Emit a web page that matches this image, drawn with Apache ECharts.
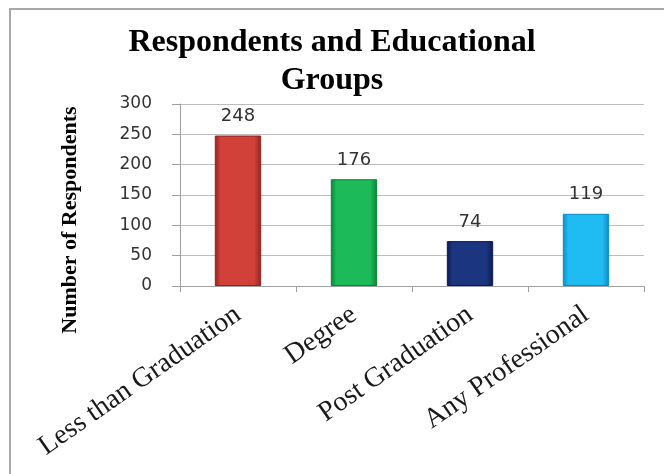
<!DOCTYPE html>
<html>
<head>
<meta charset="utf-8">
<script src="https://cdn.jsdelivr.net/npm/echarts@6/dist/echarts.min.js"></script>
<style>
html,body{margin:0;padding:0;background:#fff;}
#chart{width:664px;height:474px;}
</style>
</head>
<body>
<div id="chart"></div>
<script>
var titleText = 'Respondents and Educational\nGroups';
var yAxisTitle = 'Number of Respondents';
var categories = ['Less than Graduation', 'Degree', 'Post Graduation', 'Any Professional'];
var values = [248, 176, 74, 119];
var yMin = 0, yMax = 300, yStep = 50;

var barStyles = [
  {edge: '#8e2420', mid: '#d2403a'},
  {edge: '#0a8236', mid: '#1cba58'},
  {edge: '#0a1a4e', mid: '#1c3580'},
  {edge: '#0a8cc4', mid: '#1fbcf3'}
];

function barColor(s) {
  return new echarts.graphic.LinearGradient(0, 0, 1, 0, [
    {offset: 0, color: s.edge},
    {offset: 0.12, color: s.mid},
    {offset: 0.85, color: s.mid},
    {offset: 1, color: s.edge}
  ]);
}

var chart = echarts.init(document.getElementById('chart'), null, {renderer: 'canvas'});
chart.setOption({
  backgroundColor: '#ffffff',
  animation: false,
  title: {
    text: titleText,
    left: 'center',
    top: 19,
    padding: [5, 0, 0, 24],
    textStyle: {
      fontFamily: '"Liberation Serif", serif',
      fontWeight: 'bold',
      fontSize: 32,
      lineHeight: 38,
      color: '#000'
    }
  },
  graphic: [
    {
      type: 'rect',
      shape: {x: 10, y: 9, width: 700, height: 500},
      style: {fill: 'none', stroke: '#a8a8a8', lineWidth: 2},
      silent: true
    },
    {
      type: 'text',
      x: 70,
      y: 220,
      rotation: Math.PI / 2,
      style: {
        text: yAxisTitle,
        align: 'center',
        verticalAlign: 'middle',
        font: 'bold 22px "Liberation Serif", serif',
        fill: '#000'
      }
    }
  ],
  grid: {left: 180, right: 20, top: 104, bottom: 188},
  xAxis: {
    type: 'category',
    data: categories,
    axisLine: {show: true, lineStyle: {color: '#a0a0a0', width: 1}},
    axisTick: {show: true, length: 6, lineStyle: {color: '#a0a0a0'}},
    axisLabel: {
      rotate: 35,
      margin: 26,
      fontFamily: '"Liberation Serif", serif',
      fontSize: 28,
      color: '#1a1a1a',
      interval: 0
    }
  },
  yAxis: {
    type: 'value',
    min: yMin,
    max: yMax,
    interval: yStep,
    axisLine: {show: true, lineStyle: {color: '#a0a0a0'}},
    axisTick: {show: true, length: 8, lineStyle: {color: '#a0a0a0'}},
    splitLine: {show: true, lineStyle: {color: '#bdbdbd', width: 1}},
    axisLabel: {
      margin: 28,
      fontFamily: '"DejaVu Sans", sans-serif',
      fontSize: 17,
      color: '#333'
    }
  },
  series: [{
    type: 'bar',
    barWidth: '40%',
    data: values.map(function (v, i) {
      return {
        value: v,
        itemStyle: {color: barColor(barStyles[i]), borderColor: barStyles[i].edge, borderWidth: 1}
      };
    }),
    label: {
      show: true,
      position: 'top',
      distance: 10,
      fontFamily: '"DejaVu Sans", sans-serif',
      fontSize: 18,
      color: '#333'
    }
  }]
});
</script>
</body>
</html>
